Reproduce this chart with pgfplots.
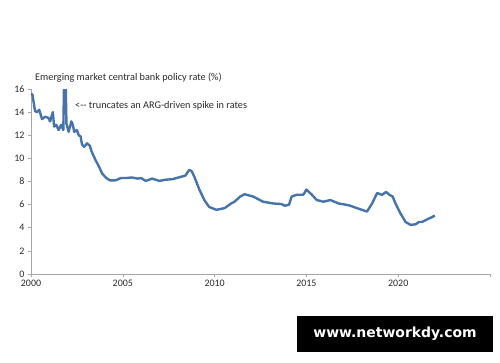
\documentclass[border=0pt]{standalone}
\usepackage{pgfplots}
\pgfplotsset{compat=1.18}
\usepackage{fontspec}
\setmainfont{Carlito}
\newfontfamily\wmfont{DejaVu Sans}
\definecolor{linec}{HTML}{4674AA}
\definecolor{axc}{HTML}{A6A6A6}
\definecolor{txt}{HTML}{2B2B2B}
\begin{document}
\begin{tikzpicture}[x=1bp,y=1bp]
\path[fill=white] (-31,-88) rectangle (469,274);
\begin{axis}[
  at={(0,0)}, anchor=origin,
  scale only axis, width=459bp, height=185bp,
  xmin=2000, xmax=2025, ymin=0, ymax=16,
  axis x line*=bottom, axis y line*=left,
  axis line style={axc, line width=0.8pt, -},
  xtick={2000,2005,2010,2015,2020,2025},
  xticklabels={2000,2005,2010,2015,2020,{}},
  ytick={0,2,...,16},
  tick style={axc, line width=0.6pt},
  tick align=outside, major tick length=3bp,
  ticklabel style={font=\fontsize{10}{12}\selectfont, text=txt},
  /pgf/number format/assume math mode=true,
  /pgf/number format/1000 sep={},
  clip=true,
]
\addplot[linec, line width=2.4pt, line join=round] coordinates {
(2000.00,15.6) (2000.08,15.5) (2000.15,14.8) (2000.22,14.1) (2000.32,14.0) (2000.45,14.2)
(2000.60,13.4) (2000.77,13.6) (2000.95,13.5) (2001.04,13.2) (2001.19,14.0) (2001.26,12.75)
(2001.38,12.9) (2001.50,12.45) (2001.64,12.9) (2001.76,12.45) (2001.80,16.5) (2001.89,16.5)
(2001.93,13.0) (2002.05,12.3) (2002.20,13.2) (2002.28,12.9) (2002.35,12.3) (2002.50,12.45)
(2002.60,12.0) (2002.70,11.9) (2002.78,11.2) (2002.90,11.0) (2003.05,11.3) (2003.20,11.1)
(2003.30,10.6) (2003.50,9.9) (2003.70,9.3) (2003.87,8.7) (2004.10,8.3) (2004.30,8.1)
(2004.60,8.1) (2004.90,8.3) (2005.20,8.3) (2005.50,8.35) (2005.80,8.25) (2006.00,8.3)
(2006.25,8.05) (2006.60,8.25) (2007.00,8.05) (2007.30,8.15) (2007.70,8.2) (2008.15,8.4)
(2008.40,8.5) (2008.62,9.0) (2008.75,8.9) (2008.90,8.4) (2009.17,7.3) (2009.44,6.4)
(2009.70,5.8) (2010.10,5.55) (2010.55,5.7) (2010.90,6.1) (2011.08,6.25) (2011.40,6.7)
(2011.63,6.9) (2012.10,6.7) (2012.64,6.25) (2013.19,6.1) (2013.64,6.05) (2013.83,5.9)
(2014.05,6.0) (2014.20,6.7) (2014.47,6.85) (2014.83,6.85) (2015.00,7.3) (2015.30,6.85)
(2015.56,6.4) (2015.93,6.25) (2016.30,6.4) (2016.75,6.1) (2017.30,5.95) (2017.75,5.7)
(2018.30,5.4) (2018.58,6.1) (2018.85,7.0) (2019.12,6.85) (2019.34,7.1) (2019.52,6.85)
(2019.70,6.7) (2019.85,6.1) (2020.12,5.25) (2020.40,4.5) (2020.67,4.25) (2020.95,4.3)
(2021.13,4.5) (2021.30,4.5) (2021.68,4.8) (2022.00,5.05)
};
\end{axis}
\node[anchor=base west, font=\fontsize{10.3}{12}\selectfont, text=txt, inner sep=0pt] at (4,194) {Emerging market central bank policy rate (\%)};
\node[anchor=base west, font=\fontsize{10.3}{12}\selectfont, text=txt, inner sep=0pt] at (44,166) {<-{}- truncates an ARG-driven spike in rates};
\node[fill=black, text=white, font=\wmfont\bfseries\fontsize{14}{16}\selectfont, minimum width=196bp, minimum height=36bp, inner sep=0pt] at (364,-60) {www.networkdy.com};
\end{tikzpicture}
\end{document}
